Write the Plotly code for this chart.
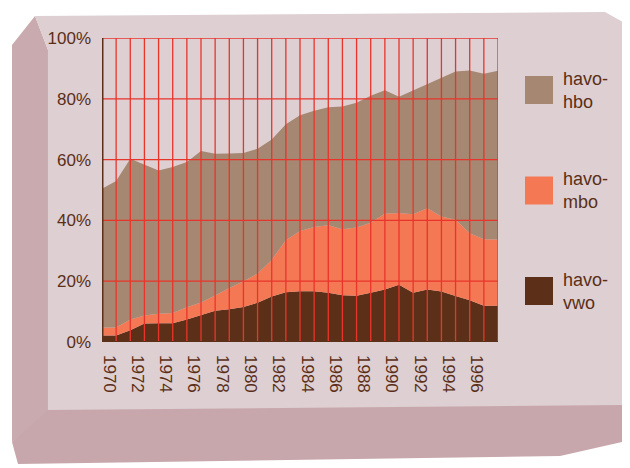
import plotly.graph_objects as go

# ---- data (shares in %, read at each year boundary) ----
years = list(range(1970, 1998))          # year cells
label_years = years[::2]                  # tick labels shown
havo_vwo = [2.1, 2.1, 3.9, 6.1, 6.2, 6.2, 7.4, 8.8, 10.3, 10.8, 11.5, 12.9, 15.0, 16.4,
            16.7, 16.7, 16.2, 15.4, 15.2, 16.2, 17.3, 18.8, 16.2, 17.3, 16.6, 15.1, 13.7, 11.9, 11.9]
havo_mbo = [2.7, 2.7, 3.5, 2.6, 3.1, 3.3, 4.0, 4.2, 5.0, 7.0, 8.5, 9.6, 12.0, 17.1,
            19.8, 21.1, 22.2, 21.7, 22.5, 23.0, 24.9, 23.6, 25.8, 26.7, 24.7, 25.1, 22.1, 21.9, 21.8]
havo_hbo = [45.6, 48.2, 52.9, 49.7, 47.1, 48.1, 47.8, 49.8, 46.6, 44.2, 42.2, 41.1, 39.6, 38.1,
            38.1, 38.3, 38.8, 40.4, 41.0, 41.8, 40.6, 38.3, 40.8, 40.8, 45.5, 48.8, 53.5, 54.4, 55.5]
series_names = ["havo-vwo", "havo-mbo", "havo-hbo"]
legend_labels = ["havo-<br>hbo", "havo-<br>mbo", "havo-<br>vwo"]
y_ticks = [0, 20, 40, 60, 80, 100]

# ---- style ----
C_VWO, C_MBO, C_HBO = "#5c3018", "#f47854", "#a68771"
GRID = "#e8352b"
TXT = "#5a2e17"
FONT = "Liberation Sans"

W, H = 630, 468
OFF = 8                      # page body margin offset
PL, PT = 102, 38             # target plot-area origin on the page
PW, PH = 396, 304
L, T = PL - OFF, PT - OFF
R, B = W - L - PW, H - T - PH

def px(x):
    return (x - PL) / PW

def py(y):
    return (PT + PH - y) / PH

def path(points):
    return "M " + " L ".join(f"{px(x):.4f},{py(y):.4f}" for x, y in points) + " Z"

xs = list(range(len(havo_vwo)))  # boundary positions 0..28

fig = go.Figure()
for name, vals, col in [("havo-vwo", havo_vwo, C_VWO), ("havo-mbo", havo_mbo, C_MBO),
                        ("havo-hbo", havo_hbo, C_HBO)]:
    fig.add_trace(go.Scatter(x=xs, y=vals, name=name, stackgroup="one", mode="lines",
                             line=dict(width=0, color=col), fillcolor=col,
                             showlegend=False, hoverinfo="skip"))

shapes = []
# background stone slab
shapes.append(dict(type="path", xref="paper", yref="paper", layer="below",
                   path=path([(12, 45), (35, 16), (48, 50), (48, 415), (12, 442)]),
                   fillcolor="#c9abaf", line=dict(width=0)))
shapes.append(dict(type="path", xref="paper", yref="paper", layer="below",
                   path=path([(35, 16), (605, 12), (628, 25), (626, 408), (48, 412), (48, 50)]),
                   fillcolor="#ddcfd2", line=dict(width=0)))
shapes.append(dict(type="path", xref="paper", yref="paper", layer="below",
                   path=path([(12, 442), (48, 410), (626, 405), (622, 442), (560, 456), (18, 464)]),
                   fillcolor="#c7a7ab", line=dict(width=0)))

# grid above the areas
for i in xs:
    shapes.append(dict(type="line", xref="x", yref="y", x0=i, x1=i, y0=0, y1=100,
                       line=dict(color=GRID, width=1.3), layer="above"))
for v in y_ticks:
    shapes.append(dict(type="line", xref="x", yref="y", x0=0, x1=xs[-1], y0=v, y1=v,
                       line=dict(color=GRID, width=1.3), layer="above"))
# left axis line and base
shapes.append(dict(type="line", xref="x", yref="y", x0=0, x1=0, y0=0, y1=100,
                   line=dict(color=C_VWO, width=3), layer="above"))
shapes.append(dict(type="line", xref="x", yref="y", x0=0, x1=xs[-1], y0=0, y1=0,
                   line=dict(color=C_VWO, width=2), layer="above"))

# custom legend
legend_colors = [C_HBO, C_MBO, C_VWO]
annotations = []
for i, (lab, col) in enumerate(zip(legend_labels, legend_colors)):
    cy = 90 + 100.5 * i
    shapes.append(dict(type="rect", xref="paper", yref="paper",
                       x0=px(525), x1=px(553), y0=py(cy - 14), y1=py(cy + 14),
                       fillcolor=col, line=dict(width=0)))
    annotations.append(dict(text=lab, xref="paper", yref="paper", x=px(561), y=py(cy),
                            xanchor="left", yanchor="middle", align="left", showarrow=False,
                            font=dict(family=FONT, size=18, color=TXT)))

fig.update_layout(
    width=W, height=H,
    margin=dict(l=L, r=R, t=T, b=B, autoexpand=False),
    paper_bgcolor="white", plot_bgcolor="rgba(0,0,0,0)",
    shapes=shapes, annotations=annotations,
    font=dict(family=FONT, color=TXT, size=17),
    xaxis=dict(range=[0, xs[-1]], showgrid=False, zeroline=False, showline=False,
               tickvals=[years.index(y) + 0.5 for y in label_years],
               ticktext=[str(y) for y in label_years], tickangle=90, ticks="",
               ticklabelstandoff=12, tickfont=dict(size=17, color=TXT)),
    yaxis=dict(range=[0, 100], showgrid=False, zeroline=False, showline=False,
               tickvals=y_ticks, ticktext=[f"{v}%" for v in y_ticks], ticks="",
               ticklabelstandoff=10, tickfont=dict(size=17, color=TXT)),
)

fig.write_html("out.html")
